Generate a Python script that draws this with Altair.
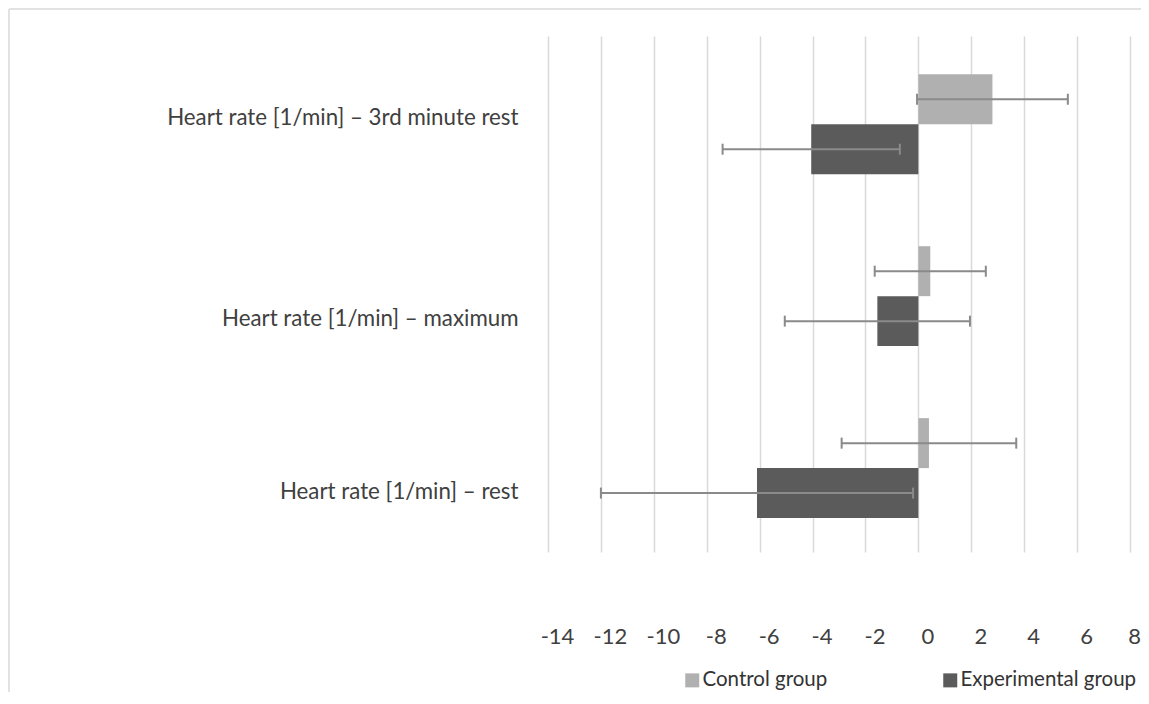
import altair as alt
import pandas as pd

categories = [
    "Heart rate [1/min] – 3rd minute rest",
    "Heart rate [1/min] – maximum",
    "Heart rate [1/min] – rest",
]
groups = ["Control group", "Experimental  group"]
control_mean = [2.8, 0.45, 0.4]
control_err = [2.85, 2.1, 3.3]
exp_mean = [-4.05, -1.55, -6.1]
exp_err = [3.35, 3.5, 5.9]
x_ticks = [-14, -12, -10, -8, -6, -4, -2, 0, 2, 4, 6, 8]

rows = []
for i, c in enumerate(categories):
    rows.append({"category": c, "group": groups[0], "mean": control_mean[i],
                 "lo": control_mean[i] - control_err[i], "hi": control_mean[i] + control_err[i]})
    rows.append({"category": c, "group": groups[1], "mean": exp_mean[i],
                 "lo": exp_mean[i] - exp_err[i], "hi": exp_mean[i] + exp_err[i]})
df = pd.DataFrame(rows)

FONT = "Lato"
TXT = "#404040"

xscale = alt.Scale(domain=[-14, 8], nice=False, zero=False)
yscale = alt.Scale(domain=categories, paddingInner=0.419, paddingOuter=0.21, align=0.53)
yoff_scale = alt.Scale(domain=groups, paddingInner=0, paddingOuter=0)

label_offset_expr = (
    "datum.value == '" + categories[0] + "' ? -6 : "
    "(datum.value == '" + categories[1] + "' ? 23 : 24)"
)

x_axis = alt.Axis(values=x_ticks, title=None, domain=False, ticks=False, tickSize=0,
                  grid=True, gridColor="#d9d9d9", gridWidth=1.5,
                  labelFont=FONT, labelFontSize=22, labelColor=TXT,
                  labelPadding=84, labelBaseline="middle",
                  labelOffset={"expr": "datum.value == 8 ? 4 : 9"},
                  labelFlush=False, labelExpr="'' + datum.value")
y_axis = alt.Axis(title=None, domain=False, ticks=False, tickSize=0, grid=False,
                  labelFont=FONT, labelFontSize=22.3, labelColor=TXT,
                  labelPadding=30, labelAlign="right", labelLimit=0,
                  labelOffset={"expr": label_offset_expr})

base = alt.Chart(df)

bars = base.mark_bar().encode(
    x=alt.X("mean:Q", scale=xscale, axis=x_axis),
    y=alt.Y("category:N", scale=yscale, axis=y_axis, sort=categories),
    yOffset=alt.YOffset("group:N", scale=yoff_scale, sort=groups),
    color=alt.Color("group:N", scale=alt.Scale(domain=groups, range=["#b0b0b0", "#5b5b5b"]),
                    legend=alt.Legend(title=None, orient="none", legendX=134, legendY=634,
                                      direction="horizontal", symbolType="square",
                                      symbolSize=196, symbolStrokeWidth=0,
                                      labelFont=FONT, labelFontSize=20.5, labelColor="#333333",
                                      labelOffset=0, columnPadding=112, labelLimit=0)),
)

err = base.mark_rule(color="#8a8a8a", strokeWidth=2).encode(
    x=alt.X("lo:Q", scale=xscale),
    x2="hi:Q",
    y=alt.Y("category:N", scale=yscale, sort=categories),
    yOffset=alt.YOffset("group:N", scale=yoff_scale, sort=groups),
)

caps = base.transform_fold(["lo", "hi"], as_=["end", "val"]).mark_tick(
    color="#8a8a8a", thickness=2, size=11, opacity=1
).encode(
    x=alt.X("val:Q", scale=xscale),
    y=alt.Y("category:N", scale=yscale, sort=categories),
    yOffset=alt.YOffset("group:N", scale=yoff_scale, sort=groups),
)

frame_df = pd.DataFrame({"k": [0]})
left_border = alt.Chart(frame_df).mark_rule(color="#e2e2e2", strokeWidth=2).encode(
    x=alt.value(-539), y=alt.value(-27), y2=alt.value(700)
)
top_border = alt.Chart(frame_df).mark_rule(color="#e2e2e2", strokeWidth=2).encode(
    x=alt.value(-539), x2=alt.value(700), y=alt.value(-27)
)

chart = alt.layer(bars, err, caps, left_border, top_border).properties(
    width=582, height=516,
    autosize=alt.AutoSizeParams(type="none"),
    padding={"left": 540, "top": 28, "right": 11, "bottom": 140},
).configure_view(strokeWidth=0)

chart.save("out.html", embed_options={"renderer": "svg", "actions": False})
